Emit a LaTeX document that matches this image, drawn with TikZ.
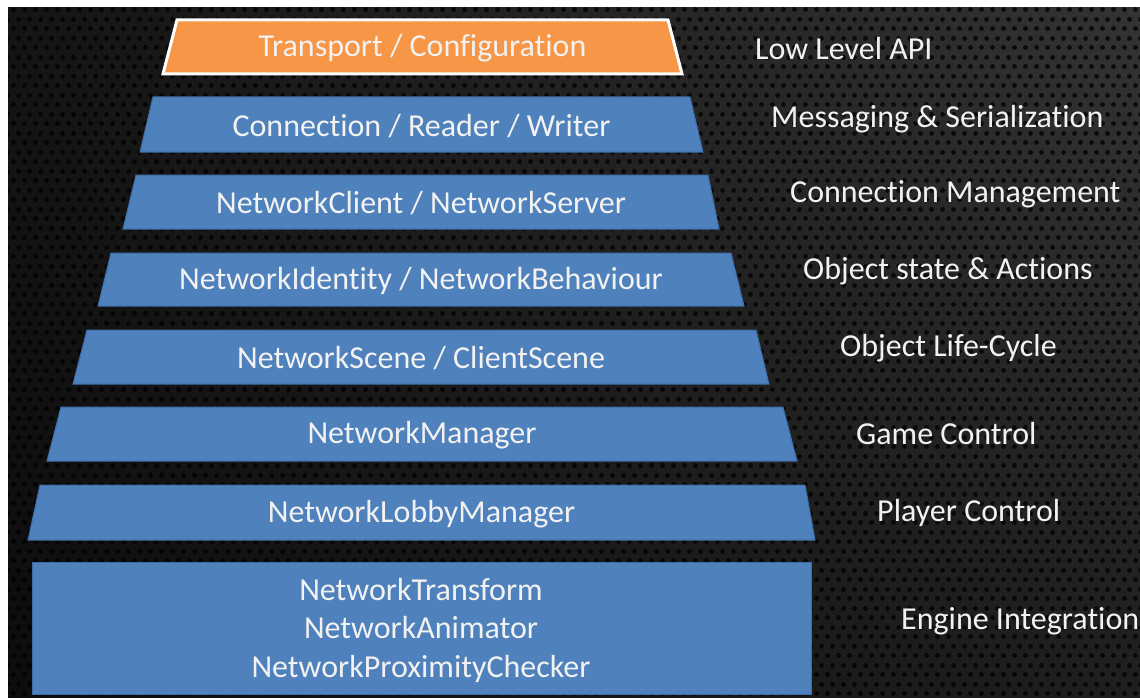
\documentclass[tikz,border=0pt]{standalone}
\usepackage{fontspec}
\setmainfont{Carlito}[Ligatures={NoCommon,NoRequired,NoContextual,NoRare}]
\usetikzlibrary{patterns.meta,shadings}

\definecolor{layerblue}{HTML}{4F81BD}
\definecolor{layeredge}{HTML}{3D6DA6}
\definecolor{layerorange}{HTML}{F79646}
\definecolor{labeltext}{HTML}{F2F2F2}

% keeps "t" and "i" as separate glyphs
\newcommand{\tsplit}{t\kern0pt i}

% perforated metal backdrop
\tikzdeclarepattern{
  name=perforated,
  type=uncolored,
  bottom left={(0pt,0pt)},
  top right={(11pt,19pt)},
  tile size={(11pt,19pt)},
  code={
    \fill (2.75pt,4.75pt) circle (2.6pt);
    \fill (8.25pt,14.25pt) circle (2.6pt);
  }
}

\tikzset{
  layertext/.style={text=labeltext, font=\fontsize{32}{38.5}\selectfont, align=center, inner sep=0pt},
  sidelabel/.style={text=labeltext, font=\fontsize{32}{38}\selectfont, anchor=west, inner sep=0pt},
  bluelayer/.style={fill=layerblue, draw=layeredge, line width=1pt},
  orangelayer/.style={fill=layerorange, draw=white, line width=3pt, line join=miter},
}

% \pyrlayer{style}{top y}{bottom y}{top left x}{top right x}{bottom left x}{bottom right x}{node name}{text}
\newcommand{\pyrlayer}[9]{%
  \path[#1] (#4,#2) -- (#5,#2) -- (#7,#3) -- (#6,#3) -- cycle;
  \node[layertext] (#8) at ({(#6+#7)/2},{(#2+#3)/2+1.5}) {#9};
}

\begin{document}
\begin{tikzpicture}[x=1pt,y=-1pt]
  \useasboundingbox (0,0) rectangle (1140,698);
  \fill[white] (0,0) rectangle (1140,698);

  % dark textured panel
  \shade[upper left=black!92, upper right=black!80, lower left=black!95, lower right=black!88]
    (8,8) rectangle (1140,698);
  \fill[pattern=perforated, pattern color=black, opacity=0.75] (8,8) rectangle (1140,698);

  % stacked layers
  \pyrlayer{orangelayer}{20}{74}{177}{668}{163}{682}{transport}{Transport / Configura\tsplit on}
  \pyrlayer{bluelayer}{97}{152}{153}{690}{140}{703}{connection}{Connec\tsplit on / Reader / Writer}
  \pyrlayer{bluelayer}{175}{229}{136}{708}{123}{719}{client}{NetworkClient / NetworkServer}
  \pyrlayer{bluelayer}{253}{306}{111}{731}{98}{744}{identity}{NetworkIdentity / NetworkBehaviour}
  \pyrlayer{bluelayer}{330}{384}{87}{756}{73}{769}{scene}{NetworkScene / ClientScene}
  \pyrlayer{bluelayer}{407}{461}{61}{783}{47}{797}{manager}{NetworkManager}
  \pyrlayer{bluelayer}{485}{540}{40}{805}{28}{815}{lobby}{NetworkLobbyManager}

  % bottom block
  \path[bluelayer] (32,562) rectangle (811,694);
  \node[layertext] (integration) at (421,630) {NetworkTransform\\NetworkAnimator\\NetworkProximityChecker};

  % layer descriptions
  \node[sidelabel] (lowlevel) at (755,49) {Low Level API};
  \node[sidelabel] (messaging) at (771,119) {Messaging \& Serializa\tsplit on};
  \node[sidelabel] (connmgmt) at (790,194) {Connec\tsplit on Management};
  \node[sidelabel] (objstate) at (803,271) {Object state \& Ac\tsplit ons};
  \node[sidelabel] (lifecycle) at (840,348) {Object Life-Cycle};
  \node[sidelabel] (gamectl) at (856,434) {Game Control};
  \node[sidelabel] (playerctl) at (877,513) {Player Control};
  \node[sidelabel] (engine) at (901,621) {Engine Integra\tsplit on};
\end{tikzpicture}
\end{document}
